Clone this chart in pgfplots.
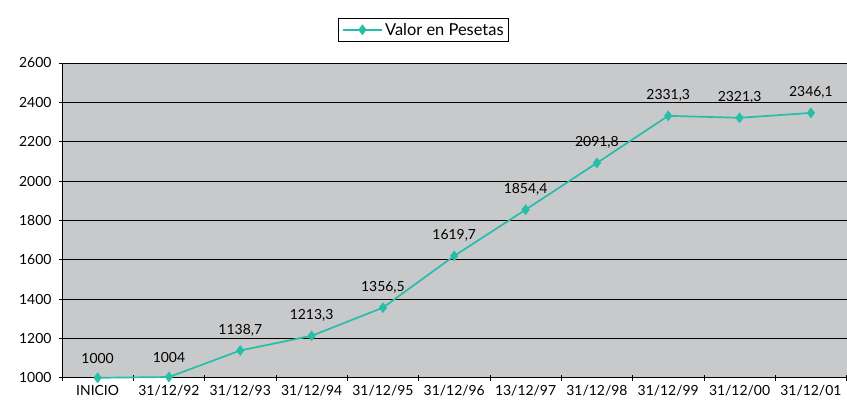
\documentclass[border=0pt]{standalone}
\usepackage{pgfplots}
\pgfplotsset{compat=1.18}
\usepackage{fontspec}
\setmainfont{Lato}
\definecolor{serie}{RGB}{38,190,168}
\definecolor{fondo}{RGB}{200,201,203}
\begin{document}
\begin{tikzpicture}[x=1bp,y=1bp]
\begin{axis}[
    width=785bp, height=315bp, scale only axis,
    xmin=-0.5, xmax=10.5,
    ymin=1000, ymax=2600,
    ytick={1000,1200,...,2600},
    xtick={0,...,10},
    xticklabels={INICIO,31/12/92,31/12/93,31/12/94,31/12/95,31/12/96,13/12/97,31/12/98,31/12/99,31/12/00,31/12/01},
    major x tick style={draw=none},
    minor xtick={-0.5,0.5,...,10.5},
    minor tick length=6bp,
    major tick length=6bp,
    tick align=outside,
    tick style={black, line width=0.8pt},
    axis x line=bottom, axis y line=left,
    axis line style={black, line width=0.9pt, -},
    ymajorgrids, grid style={black, line width=0.7pt},
    axis background/.style={fill=fondo},
    ticklabel style={font=\fontsize{14}{16}\selectfont},
    /pgf/number format/assume math mode=true,
    /pgf/number format/use comma,
    /pgf/number format/1000 sep={},
    yticklabel style={xshift=-4bp},
    xticklabel style={yshift=-1bp},
    nodes near coords,
    nodes near coords style={font=\fontsize{14}{16}\selectfont, text=black, yshift=11bp},
    legend style={at={(rel axis cs:0.461,1.067)}, anchor=south, draw=black, line width=0.6pt,
        font=\fontsize{16.5}{19}\selectfont, inner xsep=3bp, inner ysep=3bp},
    legend image code/.code={
        \draw[#1, mark=none] (0cm,0cm) -- (1.4cm,0cm);
        \draw[#1, only marks] plot coordinates {(0.7cm,0cm)};
    },
    legend cell align=left,
    clip=false,
]
\addplot[serie, line width=1.7pt, mark=diamond*, mark size=5bp, mark options={fill=serie, draw=serie, line width=0.5pt}] coordinates {
    (0,1000) (1,1004) (2,1138.7) (3,1213.3) (4,1356.5) (5,1619.7)
    (6,1854.4) (7,2091.8) (8,2331.3) (9,2321.3) (10,2346.1)
};
\addlegendentry{Valor en Pesetas}
\path (rel axis cs:-0.079,-0.08) rectangle (rel axis cs:1,1.2);
\end{axis}
\end{tikzpicture}
\end{document}
